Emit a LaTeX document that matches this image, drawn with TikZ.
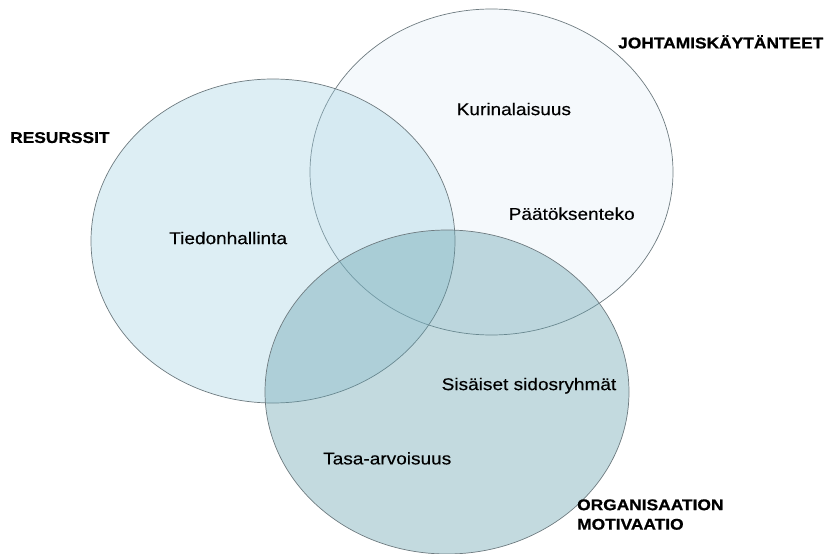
\documentclass[tikz,border=0pt]{standalone}
\usepackage{fontspec}
\setmainfont{Liberation Sans}[FakeStretch=1.12]
\newfontfamily\innerfont{Liberation Sans}[FakeStretch=1.12, FakeBold=0.35]
\newfontfamily\outerfont{Liberation Sans Bold}[FakeStretch=1.12, FakeBold=0.9]
\usetikzlibrary{shapes.geometric}
\definecolor{edge}{HTML}{6E7B80}
\definecolor{cLeft}{RGB}{158,206,224}
\definecolor{cTop}{RGB}{226,238,246}
\definecolor{cBot}{RGB}{97,158,171}
\tikzset{
  venn/.style={ellipse, draw=edge, line width=0.7pt, inner sep=0pt,
    minimum width=364pt, minimum height=324pt},
  inner/.style={anchor=west, inner sep=0pt, text height=12.2pt, text depth=0pt,
    font=\innerfont\fontsize{17}{20}\selectfont},
  outer/.style={anchor=west, inner sep=0pt, text height=11.2pt, text depth=0pt,
    font=\outerfont\fontsize{15.5}{20}\selectfont, align=left},
}
\begin{document}
\begin{tikzpicture}[x=1pt,y=-1pt]
\useasboundingbox (0,0) rectangle (830,554);
\node[venn, fill=cTop, fill opacity=0.35, minimum width=363pt, minimum height=326pt] (top) at (491.5,172) {};
\node[venn, fill=cLeft, fill opacity=0.35] (left) at (273,241) {};
\node[venn, fill=cBot, fill opacity=0.38] (bot) at (447,392) {};
\node[outer] (resurssit) at (10,137.3) {RESURSSIT};
\node[outer] (johta) at (618,42.8) {JOHTAMISKÄYTÄNTEET};
\node[outer, text height=11.2pt, text depth=7.3pt] (org) at (577,527.7) {ORGANISAATION\\[-0.5pt]MOTIVAATIO};
\node[inner] (kuri) at (456.5,109) {Kurinalaisuus};
\node[inner] (tiedon) at (169,238) {Tiedonhallinta};
\node[inner] (paatos) at (508.5,213.7) {Päätöksenteko};
\node[inner] (sisaiset) at (441.5,384) {Sisäiset sidosryhmät};
\node[inner] (tasa) at (323,458.3) {Tasa-arvoisuus};
\end{tikzpicture}
\end{document}
